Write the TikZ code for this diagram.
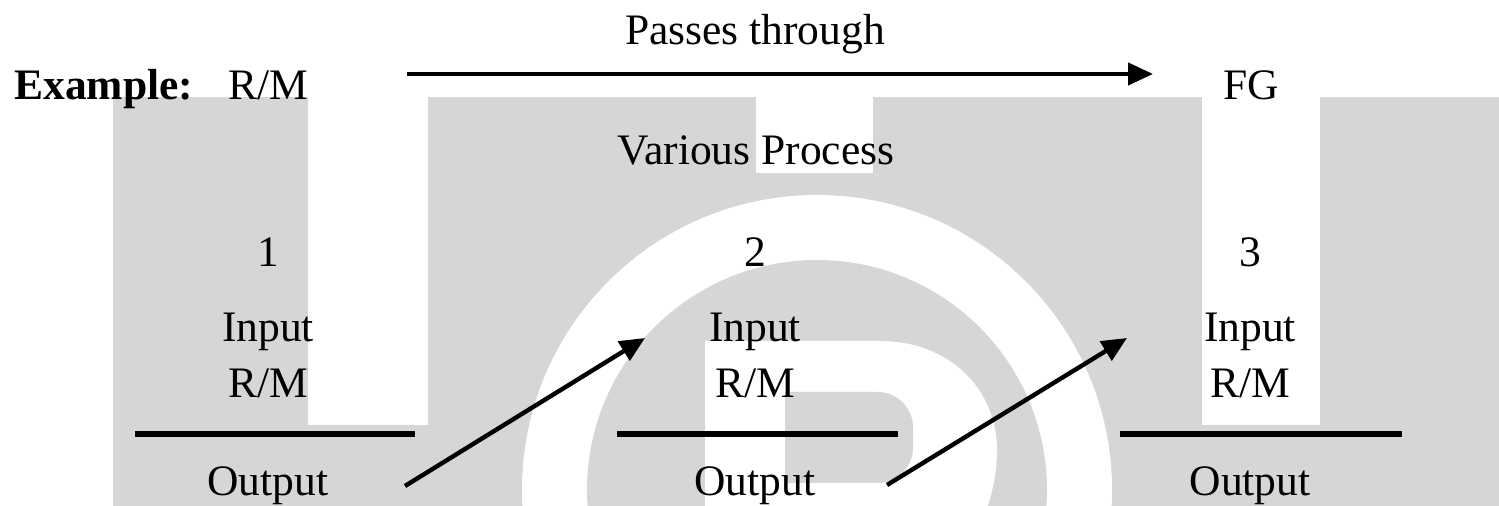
\documentclass[tikz,border=0pt]{standalone}
\usepackage{fontspec}
\setmainfont{Liberation Serif}
\usetikzlibrary{arrows.meta}
\definecolor{wm}{RGB}{214,214,214}
\begin{document}
\begin{tikzpicture}[x=0.5pt,y=-0.5pt,
  lbl/.style={anchor=base,inner sep=0pt,font=\fontsize{21.75pt}{26pt}\selectfont},
  rulebar/.style={line width=3pt},
  flow/.style={line width=2.2pt,-{Triangle[length=12.5pt,width=11pt]}},
  ]
\useasboundingbox (0,0) rectangle (1499,506);
% watermark background
\begin{scope}
\clip (0,0) rectangle (1499,506);
\fill[wm] (113,97) rectangle (1499,506);
\fill[white] (308,97) rectangle (428,425);
\fill[white] (756,97) rectangle (873,173);
\fill[white] (1202,97) rectangle (1320,425);
\fill[white] (817,490) circle[radius=295];
\fill[wm] (817,490) circle[radius=230];
\fill[white] (705,341) -- (880,341) .. controls (950,341) and (997,390) .. (997,450)
  .. controls (997,480) and (990,500) .. (980,530) -- (705,530) -- cycle;
\fill[wm] (785,392) -- (878,392) .. controls (897,392) and (913,408) .. (913,427)
  -- (913,448) .. controls (913,467) and (897,483) .. (878,483) -- (785,483) -- cycle;
\end{scope}
% texts
\node[lbl,anchor=base west] (ex) at (14,100) {\textbf{Example:}};
\node[lbl] (rm0) at (268,100) {R/M};
\node[lbl] (fg) at (1251,100) {FG};
\node[lbl] (pt) at (755,45) {Passes through};
\node[lbl] (vp) at (756,165) {Various Process};
\node[lbl] (n1) at (268,267) {1};
\node[lbl] (n2) at (755,267) {2};
\node[lbl] (n3) at (1250,267) {3};
\node[lbl] (in1) at (268,342) {Input};
\node[lbl] (in2) at (755,342) {Input};
\node[lbl] (in3) at (1250,342) {Input};
\node[lbl] (rm1) at (268,398) {R/M};
\node[lbl] (rm2) at (755,398) {R/M};
\node[lbl] (rm3) at (1250,398) {R/M};
\node[lbl] (out1) at (268,496) {Output};
\node[lbl] (out2) at (755,496) {Output};
\node[lbl] (out3) at (1250,496) {Output};
% rules
\coordinate (r1a) at (135,434); \coordinate (r1b) at (415,434);
\coordinate (r2a) at (617,434); \coordinate (r2b) at (898,434);
\coordinate (r3a) at (1120,434); \coordinate (r3b) at (1402,434);
\draw[rulebar] (r1a) -- (r1b);
\draw[rulebar] (r2a) -- (r2b);
\draw[rulebar] (r3a) -- (r3b);
% arrows
\coordinate (ts) at (407,74); \coordinate (te) at (1153,74);
\draw[flow] (ts) -- (te);
\coordinate (d1s) at (405,486); \coordinate (d1e) at (645,338);
\coordinate (d2s) at (887,485); \coordinate (d2e) at (1127,338);
\draw[flow] (d1s) -- (d1e);
\draw[flow] (d2s) -- (d2e);
\end{tikzpicture}
\end{document}
